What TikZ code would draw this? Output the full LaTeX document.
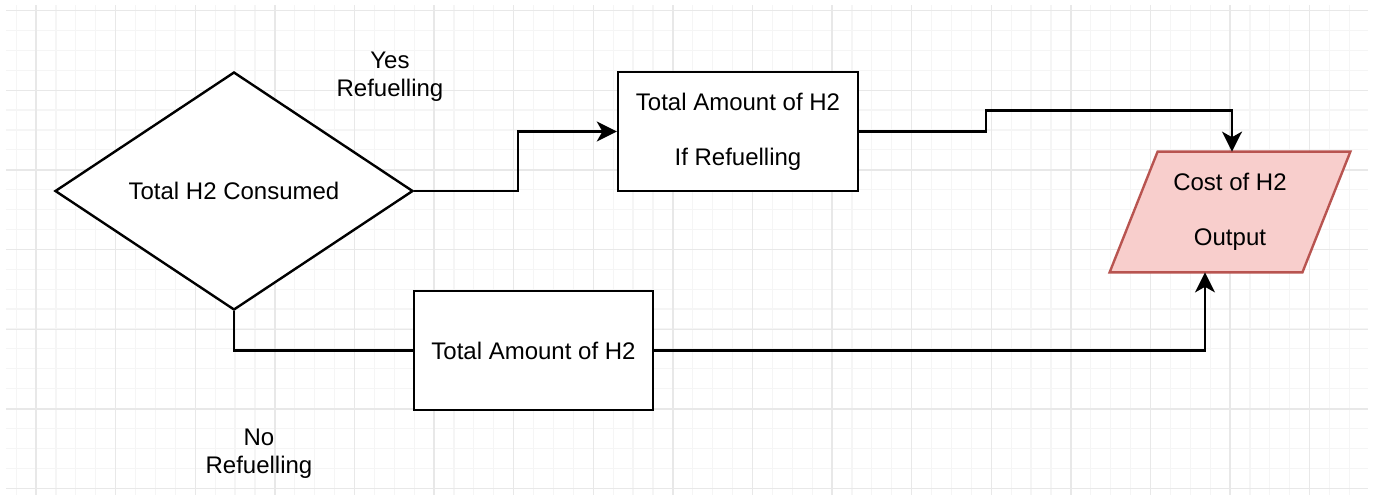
\documentclass[tikz,border=0pt]{standalone}
\usepackage{fontspec}
\setmainfont{Liberation Sans}
\usetikzlibrary{arrows.meta,positioning,calc,shapes.geometric}
\definecolor{gridfaint}{RGB}{245,245,245}
\definecolor{gridmajor}{RGB}{232,232,232}
\definecolor{outfill}{HTML}{F8CECC}
\definecolor{outline}{HTML}{B85450}
\tikzset{
  flowbox/.style={draw=black,line width=1.2pt,fill=white,minimum width=120pt,minimum height=59.5pt,inner sep=0pt,align=center},
  choice/.style={diamond,draw=black,line width=1.2pt,fill=white,minimum width=179pt,minimum height=119pt,inner sep=0pt},
  flowline/.style={line width=1.2pt},
  flowarrow/.style={line width=1.2pt,-{Stealth[length=10pt,width=10pt,inset=2.8pt]}},
  branchtag/.style={align=center}
}
\newcommand{\minorgrid}{\foreach \i in {-1,...,66} \draw[gridfaint,line width=0.6pt] ({36+19.9*\i},5) -- ({36+19.9*\i},495);
  \foreach \j in {0,...,24} \draw[gridfaint,line width=0.6pt] (6,{10.5+19.9*\j}) -- (1368,{10.5+19.9*\j});}
\newcommand{\majorgrid}{\foreach \i in {0,...,16} \draw[gridmajor,line width=0.7pt] ({36+79.6*\i},5) -- ({36+79.6*\i},495);
  \foreach \j in {0,...,6} \draw[gridmajor,line width=0.7pt] (6,{10.5+79.7*\j}) -- (1368,{10.5+79.7*\j});}

\begin{document}
\begin{tikzpicture}[x=0.5pt,y=-0.5pt,font=\fontsize{12}{14}\selectfont]
  \useasboundingbox (0,0) rectangle (1373,500);
  \minorgrid\majorgrid
  % decision and the two amounts
  \node[choice] (consumed) at (234,191) {Total H2 Consumed};
  \node[flowbox] (refuel) at (738,131.5) {Total Amount of H2\\[13.5pt]If Refuelling};
  \node[flowbox,minimum width=119.5pt] (norefuel) at (533.5,350.5) {Total Amount of H2};
  % output parallelogram
  \node[minimum width=120pt,minimum height=60pt,inner sep=0pt] (cost) at (1230,212) {};
  \filldraw[fill=outfill,draw=outline,line width=1.2pt]
    ($(cost.north west)+(48,0)$) -- (cost.north east) -- ($(cost.south east)+(-48,0)$) -- (cost.south west) -- cycle;
  \node[align=center] (costtext) at (cost) {Cost of H2\\[13.5pt]Output};
  \coordinate (costin) at ($(cost.south)+(-25,0)$);
  % branch labels
  \node[branchtag] (yestag) at (390,77) {Yes\\Refuelling};
  \node[branchtag] (notag) at (259,454) {No\\Refuelling};
  % connectors
  \draw[flowarrow] (consumed.east) -- ++(104,0) |- (refuel.west);
  \draw[flowarrow] (refuel.east) -- ++(127,0) |- ($(cost.north)+(2,-41)$) -- ($(cost.north)+(2,0)$);
  \draw[flowline] (consumed.south) |- (norefuel.west);
  \draw[flowarrow] (norefuel.east) -| (costin);
\end{tikzpicture}
\end{document}
